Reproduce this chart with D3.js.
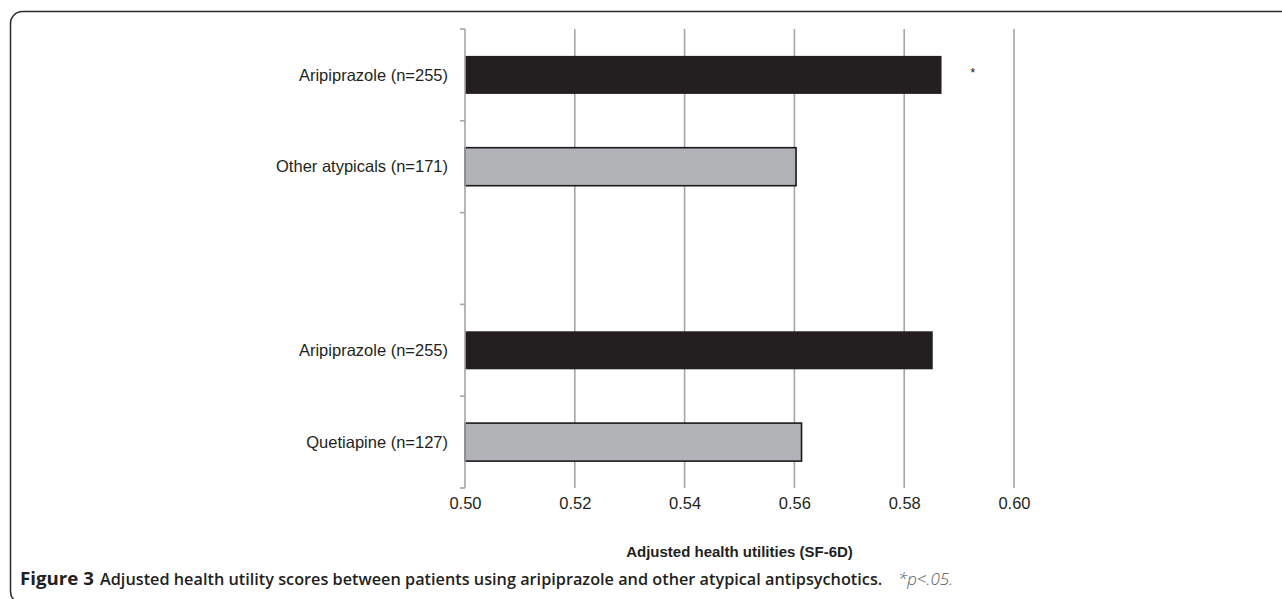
<!DOCTYPE html>
<html>
<head>
<meta charset="utf-8">
<script src="https://cdn.jsdelivr.net/npm/d3@7"></script>
<style>
  html, body { margin: 0; padding: 0; background: #fff; }
  svg { display: block; }
</style>
</head>
<body>
<svg id="chart" width="1282" height="599"></svg>
<script>
// ---- data ----
const categories = ["Aripiprazole (n=255)", "Other atypicals (n=171)", "", "Aripiprazole (n=255)", "Quetiapine (n=127)"];
const values = [0.5868, 0.5603, null, 0.5852, 0.5613];
const barGroup = ["aripiprazole", "comparator", null, "aripiprazole", "comparator"];
const significance = ["*", "", "", "", ""];
const xTicks = [0.50, 0.52, 0.54, 0.56, 0.58, 0.60];
const xTickLabels = ["0.50", "0.52", "0.54", "0.56", "0.58", "0.60"];
const xTitle = "Adjusted health utilities (SF-6D)";
const captionBold = "Figure 3";
const captionMain = "Adjusted health utility scores between patients using aripiprazole and other atypical antipsychotics.";
const captionNote = "*p<.05.";

(function () {
// ---- layout ----
const svg = d3.select("#chart");
const pLeft = 465, pRight = 1014, pTop = 29, pBottom = 488;
const font = "'Liberation Sans', Arial, sans-serif";

// frame
svg.append("rect")
  .attr("x", 10.5).attr("y", 11.5)
  .attr("width", 1400).attr("height", 592)
  .attr("rx", 12).attr("ry", 12)
  .attr("fill", "none").attr("stroke", "#2b2b2b").attr("stroke-width", 1.5);

const x = d3.scaleLinear().domain([0.5, 0.6]).range([pLeft, pRight]);
const y = d3.scaleBand()
  .domain(d3.range(categories.length))
  .range([pTop, pBottom])
  .paddingInner(0.586).paddingOuter(0.293);

const gridColor = "#a4a5a8";

// gridlines
svg.append("g").selectAll("line")
  .data(xTicks.slice(1))
  .join("line")
  .attr("x1", d => x(d)).attr("x2", d => x(d))
  .attr("y1", pTop).attr("y2", pBottom)
  .attr("stroke", gridColor).attr("stroke-width", 1.6);

// x tick labels via axis
const xAxis = d3.axisBottom(x).tickValues(xTicks)
  .tickFormat((d, i) => xTickLabels[i]).tickSize(0).tickPadding(0);
const gx = svg.append("g").attr("transform", `translate(0,${pBottom + 21})`).call(xAxis);
gx.select(".domain").remove();
gx.selectAll("text")
  .attr("font-family", font).attr("font-size", 16.5).attr("fill", "#231f20")
  .attr("dy", "0");

// x title
svg.append("text")
  .attr("x", (pLeft + pRight) / 2).attr("y", 557)
  .attr("text-anchor", "middle")
  .attr("font-family", font).attr("font-size", 15).attr("font-weight", "bold")
  .attr("fill", "#231f20")
  .text(xTitle);

// bars
const bars = categories.map((c, i) => ({ i, c, v: values[i], g: barGroup[i], s: significance[i] }))
  .filter(d => d.v != null);

svg.append("g").selectAll("rect")
  .data(bars)
  .join("rect")
  .attr("x", x(0.5))
  .attr("y", d => y(d.i))
  .attr("width", d => x(d.v) - x(0.5))
  .attr("height", y.bandwidth())
  .attr("fill", d => d.g === "aripiprazole" ? "#231f20" : "#b2b3b6")
  .attr("stroke", d => d.g === "aripiprazole" ? "#231f20" : "#1a1a1a")
  .attr("stroke-width", d => d.g === "aripiprazole" ? 0 : 1.6);

// significance marker
svg.append("g").selectAll("text")
  .data(bars.filter(d => d.s))
  .join("text")
  .attr("x", x(0.5925))
  .attr("y", d => y(d.i) + y.bandwidth() / 2 + 2)
  .attr("text-anchor", "middle")
  .attr("font-family", font).attr("font-size", 13)
  .attr("fill", "#231f20")
  .text(d => d.s);

// y axis (category axis) with ticks at slot boundaries
const step = y.step();
const boundaries = d3.range(categories.length + 1).map(k => pTop + k * step);
svg.append("line")
  .attr("x1", pLeft).attr("x2", pLeft)
  .attr("y1", pTop).attr("y2", pBottom)
  .attr("stroke", gridColor).attr("stroke-width", 1.6);
svg.append("g").selectAll("line")
  .data(boundaries)
  .join("line")
  .attr("x1", pLeft - 5).attr("x2", pLeft)
  .attr("y1", d => d).attr("y2", d => d)
  .attr("stroke", gridColor).attr("stroke-width", 1.6);

// category labels
svg.append("g").selectAll("text")
  .data(categories.map((c, i) => ({ c, i })).filter(d => d.c))
  .join("text")
  .attr("x", pLeft - 17)
  .attr("y", d => y(d.i) + y.bandwidth() / 2)
  .attr("dy", "0.35em")
  .attr("text-anchor", "end")
  .attr("font-family", font).attr("font-size", 16.5)
  .attr("fill", "#231f20")
  .text(d => d.c);

// caption: each part horizontally condensed to its target width via transform
const capY = 585;
const capFont = "'Open Sans', 'Noto Sans', sans-serif";
function capPart(txt, x0, width, weight, style, color) {
  const t = svg.append("text")
    .attr("x", 0).attr("y", 0)
    .attr("font-family", capFont).attr("font-size", 17)
    .attr("font-weight", weight).attr("font-style", style)
    .attr("fill", color)
    .text(txt);
  const natural = t.node().getComputedTextLength();
  const sx = width / natural;
  t.attr("transform", `translate(${x0},${capY}) scale(${sx},1)`);
}
capPart(captionBold, 20, 74, 700, "normal", "#231f20");
capPart(captionMain, 100, 783, 600, "normal", "#231f20");
capPart(captionNote, 898, 55, 300, "italic", "#58595b");
})();
</script>
</body>
</html>
